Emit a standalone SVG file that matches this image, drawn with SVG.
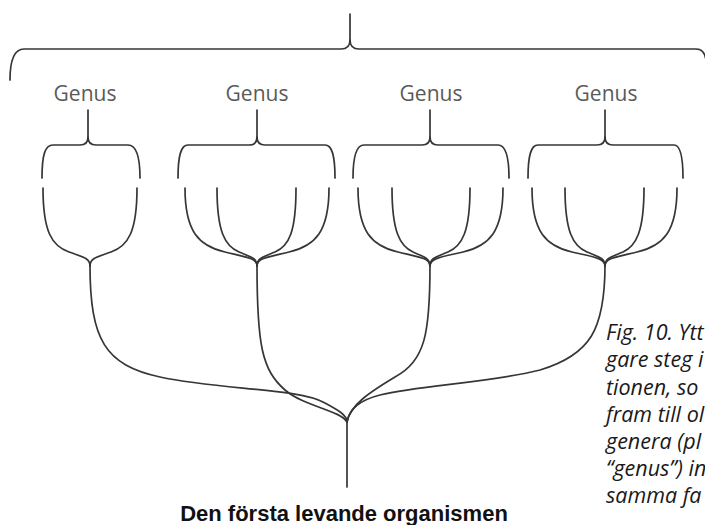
<svg xmlns="http://www.w3.org/2000/svg" width="705" height="525" viewBox="0 0 705 525">
<style>
.ln{fill:none;stroke:#363636;stroke-width:1.7;stroke-linecap:round;stroke-linejoin:round}
.genus{font-family:"Open Sans","DejaVu Sans",sans-serif;font-size:21px;fill:#5a5a5a;text-anchor:middle}
.cap{font-family:"Open Sans","DejaVu Sans",sans-serif;font-style:italic;font-size:21.5px;fill:#1a1a1a}
.root{font-family:"Liberation Sans",Arial,sans-serif;font-weight:bold;font-size:22px;fill:#111;text-anchor:middle}
</style>
<rect width="705" height="525" fill="#fff"/>
<g id="family">
<path class="ln" d="M350,14 V40 Q350,49 341,49 H24 C14,49 10,60 10,80"/>
<path class="ln" d="M350,40 Q350,49 359,49 H696 C702,49 705,53 706,60"/>
</g>
<g id="genus1">
<text class="genus" x="85" y="101">Genus</text>
<path class="ln" d="M88,110 V137 Q88,145 80,145 H53 C45,145 42,155 42,178"/>
<path class="ln" d="M88,137 Q88,145 96,145 H128 C136,145 140,155 140,178"/>
</g>
<g id="genus2">
<text class="genus" x="257" y="101">Genus</text>
<path class="ln" d="M257,110 V137 Q257,145 249,145 H188 C181,145 178,155 178,178"/>
<path class="ln" d="M257,137 Q257,145 265,145 H325 C332,145 335,155 335,178"/>
</g>
<g id="genus3">
<text class="genus" x="431" y="101">Genus</text>
<path class="ln" d="M430,110 V137 Q430,145 422,145 H364 C357,145 353,155 353,178"/>
<path class="ln" d="M430,137 Q430,145 438,145 H498 C505,145 509,155 509,178"/>
</g>
<g id="genus4">
<text class="genus" x="606" y="101">Genus</text>
<path class="ln" d="M605,110 V137 Q605,145 597,145 H538 C531,145 528,155 528,178"/>
<path class="ln" d="M605,137 Q605,145 613,145 H674 C680,145 683,155 683,178"/>
</g>
<g id="species">
<path class="ln" d="M43,188 C43,232 52,246 69,252 C83,257 90,258 90,266"/>
<path class="ln" d="M137,188 C137,232 128,246 111,252 C97,257 90,258 90,266"/>
<path class="ln" d="M185,188 C185,232 199,246 225,252 C246,257 257,258 257,266"/>
<path class="ln" d="M217,188 C217,232 225,246 239,252 C251,257 257,258 257,266"/>
<path class="ln" d="M296,188 C296,232 289,246 275,252 C263,257 257,258 257,266"/>
<path class="ln" d="M329,188 C329,232 315,246 289,252 C268,257 257,258 257,266"/>
<path class="ln" d="M358,188 C358,232 372,246 398,252 C419,257 430,258 430,266"/>
<path class="ln" d="M392,188 C392,232 400,246 413,252 C424,257 430,258 430,266"/>
<path class="ln" d="M470,188 C470,232 462,246 448,252 C436,257 430,258 430,266"/>
<path class="ln" d="M503,188 C503,232 489,246 463,252 C442,257 430,258 430,266"/>
<path class="ln" d="M532,188 C532,232 546,246 572,252 C593,257 605,258 605,266"/>
<path class="ln" d="M565,188 C565,232 573,246 587,252 C599,257 605,258 605,266"/>
<path class="ln" d="M644,188 C644,232 636,246 623,252 C611,257 605,258 605,266"/>
<path class="ln" d="M677,188 C677,232 663,246 637,252 C616,257 605,258 605,266"/>
</g>
<g id="connectors">
<path class="ln" d="M90,265 C90,340 105,365 160,377 C220,390 300,388 325,403 C338,410 347,415 347,422"/>
<path class="ln" d="M257,265 C257,345 262,370 285,390 C305,407 340,410 347,422"/>
<path class="ln" d="M430,265 C430,335 425,360 395,377 C370,392 350,405 347,422"/>
<path class="ln" d="M605,265 C605,330 590,355 540,370 C490,383 420,385 380,395 C360,400 349,410 347,422"/>
<path class="ln" d="M347,420 V487"/>
</g>
<g id="root">
<text class="root" x="344" y="521">Den första levande organismen</text>
</g>
<g id="caption">
<text class="cap" x="606" y="340">Fig. 10. Ytt</text>
<text class="cap" x="606" y="367">gare steg i</text>
<text class="cap" x="606" y="395">tionen, so</text>
<text class="cap" x="606" y="422">fram till ol</text>
<text class="cap" x="606" y="449">genera (pl</text>
<text class="cap" x="606" y="476">“genus”) in</text>
<text class="cap" x="606" y="503">samma fa</text>
</g>
</svg>
